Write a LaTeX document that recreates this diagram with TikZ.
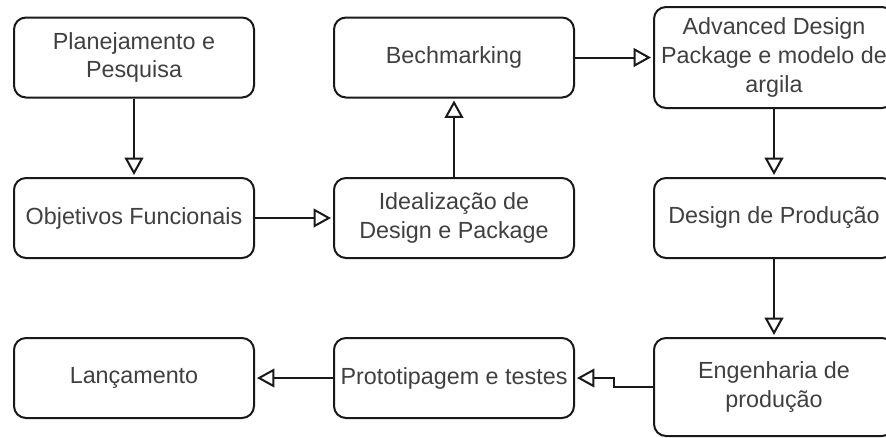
\documentclass[tikz,border=0pt]{standalone}
\usepackage{fontspec}
\setmainfont{Liberation Sans}
\usetikzlibrary{arrows.meta}
\begin{document}
\begin{tikzpicture}[x=0.75pt, y=-0.75pt,
  stage/.style={draw=black!90, line width=1.5pt, rounded corners=9pt,
    minimum width=180pt, minimum height=60pt, align=center, inner sep=0pt,
    text=black!75, font=\fontsize{17.5}{21.5}\selectfont},
  flow/.style={draw=black!90, line width=1.5pt, shorten >=1.5pt,
    -{Triangle[open, length=13pt, width=14pt, line width=1.5pt]}}]
  \useasboundingbox (0,0) rectangle (886,437);
  \clip (0,0) rectangle (886,437);
  \fill[white] (0,0) rectangle (886,437);

  % first column
  \node[stage] (plan) at (134,57.5) {Planejamento e\\Pesquisa};
  \node[stage] (obj)  at (134,218)  {Objetivos Funcionais};
  \node[stage] (lanc) at (134,378)  {Lançamento};

  % middle column
  \node[stage] (bench) at (454,57.5) {Bechmarking};
  \node[stage] (ideal) at (454,218)  {Idealização de\\Design e Package};
  \node[stage] (proto) at (454,378)  {Prototipagem e testes};

  % right column
  \node[stage, minimum height=75.75pt] (adv) at (774,57.5) {Advanced Design\\Package e modelo de\\argila};
  \node[stage] (prod) at (774,218) {Design de Produção};
  \node[stage, minimum height=73.5pt] (eng) at (774,387) {Engenharia de\\produção};

  % connectors
  \draw[flow] (plan) -- (obj);
  \draw[flow] (obj) -- (ideal);
  \draw[flow] (ideal) -- (bench);
  \draw[flow] (bench) -- (adv.west |- bench);
  \draw[flow] (adv) -- (prod);
  \draw[flow] (prod) -- (eng);
  \draw[flow] (eng.west) -- ++(-39,0) |- (proto.east);
  \draw[flow] (proto) -- (lanc);
\end{tikzpicture}
\end{document}
